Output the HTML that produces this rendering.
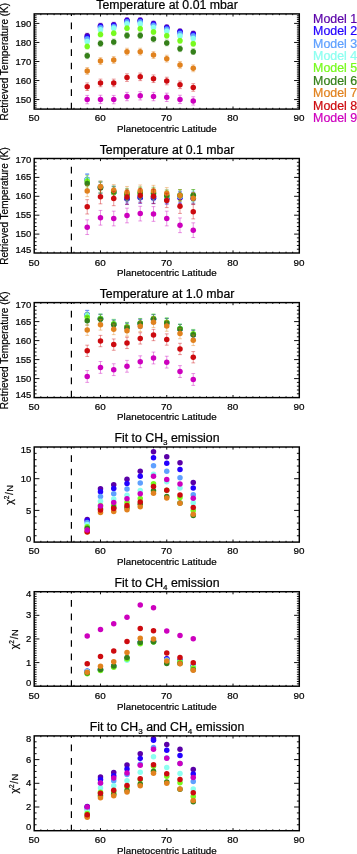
<!DOCTYPE html>
<html><head><meta charset="utf-8"><title>Model retrievals</title>
<style>html,body{margin:0;padding:0;background:#fff}svg{display:block}text{font-family:"Liberation Sans",Arial,Helvetica,sans-serif;fill:#000;stroke:#000;stroke-width:0.22px}</style></head><body>
<svg width="357" height="854" viewBox="0 0 357 854">
<rect width="357" height="854" fill="#fff"/>
<defs><filter id="soft" x="0" y="0" width="100%" height="100%" filterUnits="userSpaceOnUse" color-interpolation-filters="sRGB"><feGaussianBlur stdDeviation="0.35"/></filter></defs>
<g filter="url(#soft)">
<g>
<text x="167" y="9.05" font-size="12.3" text-anchor="middle">Temperature at 0.01 mbar</text>
<path d="M71.4 109.1V102.7M71.4 96.05V89.35M71.4 82.7V76M71.4 69.35V62.65M71.4 56V49.3M71.4 42.65V35.95M71.4 29.3V22.6M71.4 15.95V13.9" stroke="#000" stroke-width="1.2" fill="none"/>
<path d="M40.83 109.1v-1.3M40.83 13.9v1.3M47.46 109.1v-1.3M47.46 13.9v1.3M54.08 109.1v-1.3M54.08 13.9v1.3M60.71 109.1v-1.3M60.71 13.9v1.3M67.34 109.1v-1.3M67.34 13.9v1.3M73.97 109.1v-1.3M73.97 13.9v1.3M80.59 109.1v-1.3M80.59 13.9v1.3M87.22 109.1v-1.3M87.22 13.9v1.3M93.85 109.1v-1.3M93.85 13.9v1.3M100.48 109.1v-2.6M100.48 13.9v2.6M107.1 109.1v-1.3M107.1 13.9v1.3M113.73 109.1v-1.3M113.73 13.9v1.3M120.36 109.1v-1.3M120.36 13.9v1.3M126.99 109.1v-1.3M126.99 13.9v1.3M133.61 109.1v-1.3M133.61 13.9v1.3M140.24 109.1v-1.3M140.24 13.9v1.3M146.87 109.1v-1.3M146.87 13.9v1.3M153.5 109.1v-1.3M153.5 13.9v1.3M160.12 109.1v-1.3M160.12 13.9v1.3M166.75 109.1v-2.6M166.75 13.9v2.6M173.38 109.1v-1.3M173.38 13.9v1.3M180 109.1v-1.3M180 13.9v1.3M186.63 109.1v-1.3M186.63 13.9v1.3M193.26 109.1v-1.3M193.26 13.9v1.3M199.89 109.1v-1.3M199.89 13.9v1.3M206.51 109.1v-1.3M206.51 13.9v1.3M213.14 109.1v-1.3M213.14 13.9v1.3M219.77 109.1v-1.3M219.77 13.9v1.3M226.4 109.1v-1.3M226.4 13.9v1.3M233.03 109.1v-2.6M233.03 13.9v2.6M239.65 109.1v-1.3M239.65 13.9v1.3M246.28 109.1v-1.3M246.28 13.9v1.3M252.91 109.1v-1.3M252.91 13.9v1.3M259.54 109.1v-1.3M259.54 13.9v1.3M266.16 109.1v-1.3M266.16 13.9v1.3M272.79 109.1v-1.3M272.79 13.9v1.3M279.42 109.1v-1.3M279.42 13.9v1.3M286.05 109.1v-1.3M286.05 13.9v1.3M292.67 109.1v-1.3M292.67 13.9v1.3M34.2 107.2h2.4M299.3 107.2h-2.4M34.2 105.29h2.4M299.3 105.29h-2.4M34.2 103.39h2.4M299.3 103.39h-2.4M34.2 101.48h2.4M299.3 101.48h-2.4M34.2 99.58h5.2M299.3 99.58h-5.2M34.2 97.68h2.4M299.3 97.68h-2.4M34.2 95.77h2.4M299.3 95.77h-2.4M34.2 93.87h2.4M299.3 93.87h-2.4M34.2 91.96h2.4M299.3 91.96h-2.4M34.2 90.06h2.4M299.3 90.06h-2.4M34.2 88.16h2.4M299.3 88.16h-2.4M34.2 86.25h2.4M299.3 86.25h-2.4M34.2 84.35h2.4M299.3 84.35h-2.4M34.2 82.44h2.4M299.3 82.44h-2.4M34.2 80.54h5.2M299.3 80.54h-5.2M34.2 78.64h2.4M299.3 78.64h-2.4M34.2 76.73h2.4M299.3 76.73h-2.4M34.2 74.83h2.4M299.3 74.83h-2.4M34.2 72.92h2.4M299.3 72.92h-2.4M34.2 71.02h2.4M299.3 71.02h-2.4M34.2 69.12h2.4M299.3 69.12h-2.4M34.2 67.21h2.4M299.3 67.21h-2.4M34.2 65.31h2.4M299.3 65.31h-2.4M34.2 63.4h2.4M299.3 63.4h-2.4M34.2 61.5h5.2M299.3 61.5h-5.2M34.2 59.6h2.4M299.3 59.6h-2.4M34.2 57.69h2.4M299.3 57.69h-2.4M34.2 55.79h2.4M299.3 55.79h-2.4M34.2 53.88h2.4M299.3 53.88h-2.4M34.2 51.98h2.4M299.3 51.98h-2.4M34.2 50.08h2.4M299.3 50.08h-2.4M34.2 48.17h2.4M299.3 48.17h-2.4M34.2 46.27h2.4M299.3 46.27h-2.4M34.2 44.36h2.4M299.3 44.36h-2.4M34.2 42.46h5.2M299.3 42.46h-5.2M34.2 40.56h2.4M299.3 40.56h-2.4M34.2 38.65h2.4M299.3 38.65h-2.4M34.2 36.75h2.4M299.3 36.75h-2.4M34.2 34.84h2.4M299.3 34.84h-2.4M34.2 32.94h2.4M299.3 32.94h-2.4M34.2 31.04h2.4M299.3 31.04h-2.4M34.2 29.13h2.4M299.3 29.13h-2.4M34.2 27.23h2.4M299.3 27.23h-2.4M34.2 25.32h2.4M299.3 25.32h-2.4M34.2 23.42h5.2M299.3 23.42h-5.2M34.2 21.52h2.4M299.3 21.52h-2.4M34.2 19.61h2.4M299.3 19.61h-2.4M34.2 17.71h2.4M299.3 17.71h-2.4M34.2 15.8h2.4M299.3 15.8h-2.4" stroke="#000" stroke-width="0.95" fill="none"/>
<path d="M87.22 33.24V38.17M85.32 33.24h3.8M85.32 38.17h3.8M100.48 23.19V28.12M98.58 23.19h3.8M98.58 28.12h3.8M113.73 22.24V27.17M111.83 22.24h3.8M111.83 27.17h3.8M126.99 17.69V22.62M125.09 17.69h3.8M125.09 22.62h3.8M140.24 17.69V22.62M138.34 17.69h3.8M138.34 22.62h3.8M153.5 21.1V26.03M151.59 21.1h3.8M151.59 26.03h3.8M166.75 24.71V29.64M164.85 24.71h3.8M164.85 29.64h3.8M180 28.88V33.81M178.1 28.88h3.8M178.1 33.81h3.8M193.26 31.15V36.08M191.36 31.15h3.8M191.36 36.08h3.8" stroke="#5a00a8" stroke-width="0.6" fill="none" opacity="0.7"/>
<g fill="#5a00a8"><circle cx="87.22" cy="35.7" r="2.75"/><circle cx="100.48" cy="25.66" r="2.75"/><circle cx="113.73" cy="24.71" r="2.75"/><circle cx="126.99" cy="20.16" r="2.75"/><circle cx="140.24" cy="20.16" r="2.75"/><circle cx="153.5" cy="23.57" r="2.75"/><circle cx="166.75" cy="27.17" r="2.75"/><circle cx="180" cy="31.34" r="2.75"/><circle cx="193.26" cy="33.62" r="2.75"/></g>
<path d="M87.22 34.76V39.69M85.32 34.76h3.8M85.32 39.69h3.8M100.48 23.95V28.88M98.58 23.95h3.8M98.58 28.88h3.8M113.73 23V27.93M111.83 23h3.8M111.83 27.93h3.8M126.99 18.45V23.38M125.09 18.45h3.8M125.09 23.38h3.8M140.24 18.45V23.38M138.34 18.45h3.8M138.34 23.38h3.8M153.5 21.86V26.79M151.59 21.86h3.8M151.59 26.79h3.8M166.75 25.47V30.4M164.85 25.47h3.8M164.85 30.4h3.8M180 29.64V34.57M178.1 29.64h3.8M178.1 34.57h3.8M193.26 31.91V36.84M191.36 31.91h3.8M191.36 36.84h3.8" stroke="#2300ff" stroke-width="0.6" fill="none" opacity="0.7"/>
<g fill="#2300ff"><circle cx="87.22" cy="37.22" r="2.75"/><circle cx="100.48" cy="26.41" r="2.75"/><circle cx="113.73" cy="25.47" r="2.75"/><circle cx="126.99" cy="20.92" r="2.75"/><circle cx="140.24" cy="20.92" r="2.75"/><circle cx="153.5" cy="24.33" r="2.75"/><circle cx="166.75" cy="27.93" r="2.75"/><circle cx="180" cy="32.1" r="2.75"/><circle cx="193.26" cy="34.38" r="2.75"/></g>
<path d="M87.22 36.65V41.58M85.32 36.65h3.8M85.32 41.58h3.8M100.48 25.28V30.21M98.58 25.28h3.8M98.58 30.21h3.8M113.73 24.33V29.26M111.83 24.33h3.8M111.83 29.26h3.8M126.99 19.59V24.52M125.09 19.59h3.8M125.09 24.52h3.8M140.24 19.59V24.52M138.34 19.59h3.8M138.34 24.52h3.8M153.5 23V27.93M151.59 23h3.8M151.59 27.93h3.8M166.75 26.79V31.72M164.85 26.79h3.8M164.85 31.72h3.8M180 31.15V36.08M178.1 31.15h3.8M178.1 36.08h3.8M193.26 33.43V38.36M191.36 33.43h3.8M191.36 38.36h3.8" stroke="#5fa0ff" stroke-width="0.6" fill="none" opacity="0.7"/>
<g fill="#5fa0ff"><circle cx="87.22" cy="39.12" r="2.75"/><circle cx="100.48" cy="27.74" r="2.75"/><circle cx="113.73" cy="26.79" r="2.75"/><circle cx="126.99" cy="22.05" r="2.75"/><circle cx="140.24" cy="22.05" r="2.75"/><circle cx="153.5" cy="25.47" r="2.75"/><circle cx="166.75" cy="29.26" r="2.75"/><circle cx="180" cy="33.62" r="2.75"/><circle cx="193.26" cy="35.89" r="2.75"/></g>
<path d="M87.22 39.12V44.05M85.32 39.12h3.8M85.32 44.05h3.8M100.48 27.17V32.1M98.58 27.17h3.8M98.58 32.1h3.8M113.73 25.84V30.77M111.83 25.84h3.8M111.83 30.77h3.8M126.99 21.48V26.41M125.09 21.48h3.8M125.09 26.41h3.8M140.24 21.48V26.41M138.34 21.48h3.8M138.34 26.41h3.8M153.5 25.09V30.02M151.59 25.09h3.8M151.59 30.02h3.8M166.75 28.88V33.81M164.85 28.88h3.8M164.85 33.81h3.8M180 33.43V38.36M178.1 33.43h3.8M178.1 38.36h3.8M193.26 36.08V41.01M191.36 36.08h3.8M191.36 41.01h3.8" stroke="#8cfff0" stroke-width="0.6" fill="none" opacity="0.7"/>
<g fill="#8cfff0"><circle cx="87.22" cy="41.58" r="2.75"/><circle cx="100.48" cy="29.64" r="2.75"/><circle cx="113.73" cy="28.31" r="2.75"/><circle cx="126.99" cy="23.95" r="2.75"/><circle cx="140.24" cy="23.95" r="2.75"/><circle cx="153.5" cy="27.55" r="2.75"/><circle cx="166.75" cy="31.34" r="2.75"/><circle cx="180" cy="35.89" r="2.75"/><circle cx="193.26" cy="38.55" r="2.75"/></g>
<path d="M87.22 44.05V48.98M85.32 44.05h3.8M85.32 48.98h3.8M100.48 31.91V36.84M98.58 31.91h3.8M98.58 36.84h3.8M113.73 30.77V35.7M111.83 30.77h3.8M111.83 35.7h3.8M126.99 25.84V30.77M125.09 25.84h3.8M125.09 30.77h3.8M140.24 26.22V31.15M138.34 26.22h3.8M138.34 31.15h3.8M153.5 29.45V34.38M151.59 29.45h3.8M151.59 34.38h3.8M166.75 33.24V38.17M164.85 33.24h3.8M164.85 38.17h3.8M180 38.36V43.29M178.1 38.36h3.8M178.1 43.29h3.8M193.26 41.39V46.32M191.36 41.39h3.8M191.36 46.32h3.8" stroke="#78fa1e" stroke-width="0.6" fill="none" opacity="0.7"/>
<g fill="#78fa1e"><circle cx="87.22" cy="46.51" r="2.75"/><circle cx="100.48" cy="34.38" r="2.75"/><circle cx="113.73" cy="33.24" r="2.75"/><circle cx="126.99" cy="28.31" r="2.75"/><circle cx="140.24" cy="28.69" r="2.75"/><circle cx="153.5" cy="31.91" r="2.75"/><circle cx="166.75" cy="35.7" r="2.75"/><circle cx="180" cy="40.82" r="2.75"/><circle cx="193.26" cy="43.86" r="2.75"/></g>
<path d="M87.22 52.96V58.65M85.32 52.96h3.8M85.32 58.65h3.8M100.48 40.63V46.32M98.58 40.63h3.8M98.58 46.32h3.8M113.73 39.12V44.8M111.83 39.12h3.8M111.83 44.8h3.8M126.99 32.67V38.36M125.09 32.67h3.8M125.09 38.36h3.8M140.24 32.67V38.36M138.34 32.67h3.8M138.34 38.36h3.8M153.5 36.27V41.96M151.59 36.27h3.8M151.59 41.96h3.8M166.75 40.06V45.75M164.85 40.06h3.8M164.85 45.75h3.8M180 45.94V51.63M178.1 45.94h3.8M178.1 51.63h3.8M193.26 48.79V54.47M191.36 48.79h3.8M191.36 54.47h3.8" stroke="#35801a" stroke-width="0.6" fill="none" opacity="0.7"/>
<g fill="#35801a"><circle cx="87.22" cy="55.8" r="2.75"/><circle cx="100.48" cy="43.48" r="2.75"/><circle cx="113.73" cy="41.96" r="2.75"/><circle cx="126.99" cy="35.51" r="2.75"/><circle cx="140.24" cy="35.51" r="2.75"/><circle cx="153.5" cy="39.12" r="2.75"/><circle cx="166.75" cy="42.91" r="2.75"/><circle cx="180" cy="48.79" r="2.75"/><circle cx="193.26" cy="51.63" r="2.75"/></g>
<path d="M87.22 67.56V74.38M85.32 67.56h3.8M85.32 74.38h3.8M100.48 57.7V64.52M98.58 57.7h3.8M98.58 64.52h3.8M113.73 56.56V63.39M111.83 56.56h3.8M111.83 63.39h3.8M126.99 48.22V55.04M125.09 48.22h3.8M125.09 55.04h3.8M140.24 48.22V55.04M138.34 48.22h3.8M138.34 55.04h3.8M153.5 51.63V58.46M151.59 51.63h3.8M151.59 58.46h3.8M166.75 55.23V62.06M164.85 55.23h3.8M164.85 62.06h3.8M180 61.49V68.32M178.1 61.49h3.8M178.1 68.32h3.8M193.26 64.9V71.73M191.36 64.9h3.8M191.36 71.73h3.8" stroke="#e1821e" stroke-width="0.6" fill="none" opacity="0.7"/>
<g fill="#e1821e"><circle cx="87.22" cy="70.97" r="2.75"/><circle cx="100.48" cy="61.11" r="2.75"/><circle cx="113.73" cy="59.97" r="2.75"/><circle cx="126.99" cy="51.63" r="2.75"/><circle cx="140.24" cy="51.63" r="2.75"/><circle cx="153.5" cy="55.04" r="2.75"/><circle cx="166.75" cy="58.65" r="2.75"/><circle cx="180" cy="64.9" r="2.75"/><circle cx="193.26" cy="68.32" r="2.75"/></g>
<path d="M87.22 82.91V90.5M85.32 82.91h3.8M85.32 90.5h3.8M100.48 79.12V86.71M98.58 79.12h3.8M98.58 86.71h3.8M113.73 79.12V86.71M111.83 79.12h3.8M111.83 86.71h3.8M126.99 73.81V81.4M125.09 73.81h3.8M125.09 81.4h3.8M140.24 73.06V80.64M138.34 73.06h3.8M138.34 80.64h3.8M153.5 74.95V82.54M151.59 74.95h3.8M151.59 82.54h3.8M166.75 77.23V84.81M164.85 77.23h3.8M164.85 84.81h3.8M180 81.02V88.6M178.1 81.02h3.8M178.1 88.6h3.8M193.26 83.67V91.26M191.36 83.67h3.8M191.36 91.26h3.8" stroke="#cd0a0f" stroke-width="0.6" fill="none" opacity="0.7"/>
<g fill="#cd0a0f"><circle cx="87.22" cy="86.71" r="2.75"/><circle cx="100.48" cy="82.91" r="2.75"/><circle cx="113.73" cy="82.91" r="2.75"/><circle cx="126.99" cy="77.61" r="2.75"/><circle cx="140.24" cy="76.85" r="2.75"/><circle cx="153.5" cy="78.74" r="2.75"/><circle cx="166.75" cy="81.02" r="2.75"/><circle cx="180" cy="84.81" r="2.75"/><circle cx="193.26" cy="87.46" r="2.75"/></g>
<path d="M87.22 95.43V103.77M85.32 95.43h3.8M85.32 103.77h3.8M100.48 95.24V103.58M98.58 95.24h3.8M98.58 103.58h3.8M113.73 95.43V103.77M111.83 95.43h3.8M111.83 103.77h3.8M126.99 92.39V100.74M125.09 92.39h3.8M125.09 100.74h3.8M140.24 91.64V99.98M138.34 91.64h3.8M138.34 99.98h3.8M153.5 92.39V100.74M151.59 92.39h3.8M151.59 100.74h3.8M166.75 93.15V101.5M164.85 93.15h3.8M164.85 101.5h3.8M180 95.24V103.58M178.1 95.24h3.8M178.1 103.58h3.8M193.26 96.76V105.1M191.36 96.76h3.8M191.36 105.1h3.8" stroke="#cd00be" stroke-width="0.6" fill="none" opacity="0.7"/>
<g fill="#cd00be"><circle cx="87.22" cy="99.6" r="2.75"/><circle cx="100.48" cy="99.41" r="2.75"/><circle cx="113.73" cy="99.6" r="2.75"/><circle cx="126.99" cy="96.57" r="2.75"/><circle cx="140.24" cy="95.81" r="2.75"/><circle cx="153.5" cy="96.57" r="2.75"/><circle cx="166.75" cy="97.32" r="2.75"/><circle cx="180" cy="99.41" r="2.75"/><circle cx="193.26" cy="100.93" r="2.75"/></g>
<rect x="34.2" y="13.9" width="265.1" height="95.2" fill="none" stroke="#000" stroke-width="1.45"/>
<text x="34" y="121.45" font-size="9.9" text-anchor="middle">50</text>
<text x="100.28" y="121.45" font-size="9.9" text-anchor="middle">60</text>
<text x="166.55" y="121.45" font-size="9.9" text-anchor="middle">70</text>
<text x="232.83" y="121.45" font-size="9.9" text-anchor="middle">80</text>
<text x="299.1" y="121.45" font-size="9.9" text-anchor="middle">90</text>
<text x="166.9" y="132.15" font-size="9.8" text-anchor="middle">Planetocentric Latitude</text>
<text x="31.3" y="102.88" font-size="9.5" text-anchor="end">150</text>
<text x="31.3" y="83.84" font-size="9.5" text-anchor="end">160</text>
<text x="31.3" y="64.8" font-size="9.5" text-anchor="end">170</text>
<text x="31.3" y="45.76" font-size="9.5" text-anchor="end">180</text>
<text x="31.3" y="26.72" font-size="9.5" text-anchor="end">190</text>
<text transform="translate(7.8 61.7) rotate(-90)" font-size="10" text-anchor="middle">Retrieved Temperature (K)</text>
</g>
<g>
<text x="167" y="153.65" font-size="12.3" text-anchor="middle">Temperature at 0.1 mbar</text>
<path d="M71.4 253V246.8M71.4 240.15V233.45M71.4 226.8V220.1M71.4 213.45V206.75M71.4 200.1V193.4M71.4 186.75V180.05M71.4 173.4V166.7M71.4 160.05V158.5" stroke="#000" stroke-width="1.2" fill="none"/>
<path d="M40.83 253v-1.3M40.83 158.5v1.3M47.46 253v-1.3M47.46 158.5v1.3M54.08 253v-1.3M54.08 158.5v1.3M60.71 253v-1.3M60.71 158.5v1.3M67.34 253v-1.3M67.34 158.5v1.3M73.97 253v-1.3M73.97 158.5v1.3M80.59 253v-1.3M80.59 158.5v1.3M87.22 253v-1.3M87.22 158.5v1.3M93.85 253v-1.3M93.85 158.5v1.3M100.48 253v-2.6M100.48 158.5v2.6M107.1 253v-1.3M107.1 158.5v1.3M113.73 253v-1.3M113.73 158.5v1.3M120.36 253v-1.3M120.36 158.5v1.3M126.99 253v-1.3M126.99 158.5v1.3M133.61 253v-1.3M133.61 158.5v1.3M140.24 253v-1.3M140.24 158.5v1.3M146.87 253v-1.3M146.87 158.5v1.3M153.5 253v-1.3M153.5 158.5v1.3M160.12 253v-1.3M160.12 158.5v1.3M166.75 253v-2.6M166.75 158.5v2.6M173.38 253v-1.3M173.38 158.5v1.3M180 253v-1.3M180 158.5v1.3M186.63 253v-1.3M186.63 158.5v1.3M193.26 253v-1.3M193.26 158.5v1.3M199.89 253v-1.3M199.89 158.5v1.3M206.51 253v-1.3M206.51 158.5v1.3M213.14 253v-1.3M213.14 158.5v1.3M219.77 253v-1.3M219.77 158.5v1.3M226.4 253v-1.3M226.4 158.5v1.3M233.03 253v-2.6M233.03 158.5v2.6M239.65 253v-1.3M239.65 158.5v1.3M246.28 253v-1.3M246.28 158.5v1.3M252.91 253v-1.3M252.91 158.5v1.3M259.54 253v-1.3M259.54 158.5v1.3M266.16 253v-1.3M266.16 158.5v1.3M272.79 253v-1.3M272.79 158.5v1.3M279.42 253v-1.3M279.42 158.5v1.3M286.05 253v-1.3M286.05 158.5v1.3M292.67 253v-1.3M292.67 158.5v1.3M34.2 249.22h2.4M299.3 249.22h-2.4M34.2 245.44h2.4M299.3 245.44h-2.4M34.2 241.66h2.4M299.3 241.66h-2.4M34.2 237.88h2.4M299.3 237.88h-2.4M34.2 234.1h5.2M299.3 234.1h-5.2M34.2 230.32h2.4M299.3 230.32h-2.4M34.2 226.54h2.4M299.3 226.54h-2.4M34.2 222.76h2.4M299.3 222.76h-2.4M34.2 218.98h2.4M299.3 218.98h-2.4M34.2 215.2h5.2M299.3 215.2h-5.2M34.2 211.42h2.4M299.3 211.42h-2.4M34.2 207.64h2.4M299.3 207.64h-2.4M34.2 203.86h2.4M299.3 203.86h-2.4M34.2 200.08h2.4M299.3 200.08h-2.4M34.2 196.3h5.2M299.3 196.3h-5.2M34.2 192.52h2.4M299.3 192.52h-2.4M34.2 188.74h2.4M299.3 188.74h-2.4M34.2 184.96h2.4M299.3 184.96h-2.4M34.2 181.18h2.4M299.3 181.18h-2.4M34.2 177.4h5.2M299.3 177.4h-5.2M34.2 173.62h2.4M299.3 173.62h-2.4M34.2 169.84h2.4M299.3 169.84h-2.4M34.2 166.06h2.4M299.3 166.06h-2.4M34.2 162.28h2.4M299.3 162.28h-2.4" stroke="#000" stroke-width="0.95" fill="none"/>
<path d="M87.22 174.43V185.73M85.32 174.43h3.8M85.32 185.73h3.8M100.48 181.96V193.27M98.58 181.96h3.8M98.58 193.27h3.8M113.73 186.86V198.16M111.83 186.86h3.8M111.83 198.16h3.8M126.99 193.27V204.57M125.09 193.27h3.8M125.09 204.57h3.8M140.24 192.14V203.44M138.34 192.14h3.8M138.34 203.44h3.8M153.5 192.51V203.82M151.59 192.51h3.8M151.59 203.82h3.8M166.75 192.89V204.19M164.85 192.89h3.8M164.85 204.19h3.8M180 192.14V203.44M178.1 192.14h3.8M178.1 203.44h3.8M193.26 192.89V204.19M191.36 192.89h3.8M191.36 204.19h3.8" stroke="#5a00a8" stroke-width="0.6" fill="none" opacity="0.7"/>
<g fill="#5a00a8"><circle cx="87.22" cy="180.08" r="2.75"/><circle cx="100.48" cy="187.61" r="2.75"/><circle cx="113.73" cy="192.51" r="2.75"/><circle cx="126.99" cy="198.92" r="2.75"/><circle cx="140.24" cy="197.79" r="2.75"/><circle cx="153.5" cy="198.16" r="2.75"/><circle cx="166.75" cy="198.54" r="2.75"/><circle cx="180" cy="197.79" r="2.75"/><circle cx="193.26" cy="198.54" r="2.75"/></g>
<path d="M87.22 174.05V185.35M85.32 174.05h3.8M85.32 185.35h3.8M100.48 181.58V192.89M98.58 181.58h3.8M98.58 192.89h3.8M113.73 186.48V197.79M111.83 186.48h3.8M111.83 197.79h3.8M126.99 192.89V204.19M125.09 192.89h3.8M125.09 204.19h3.8M140.24 191.76V203.06M138.34 191.76h3.8M138.34 203.06h3.8M153.5 192.14V203.44M151.59 192.14h3.8M151.59 203.44h3.8M166.75 192.51V203.82M164.85 192.51h3.8M164.85 203.82h3.8M180 191.76V203.06M178.1 191.76h3.8M178.1 203.06h3.8M193.26 192.51V203.82M191.36 192.51h3.8M191.36 203.82h3.8" stroke="#2300ff" stroke-width="0.6" fill="none" opacity="0.7"/>
<g fill="#2300ff"><circle cx="87.22" cy="179.7" r="2.75"/><circle cx="100.48" cy="187.24" r="2.75"/><circle cx="113.73" cy="192.14" r="2.75"/><circle cx="126.99" cy="198.54" r="2.75"/><circle cx="140.24" cy="197.41" r="2.75"/><circle cx="153.5" cy="197.79" r="2.75"/><circle cx="166.75" cy="198.16" r="2.75"/><circle cx="180" cy="197.41" r="2.75"/><circle cx="193.26" cy="198.16" r="2.75"/></g>
<path d="M87.22 173.67V184.98M85.32 173.67h3.8M85.32 184.98h3.8M100.48 181.21V192.51M98.58 181.21h3.8M98.58 192.51h3.8M113.73 186.11V197.41M111.83 186.11h3.8M111.83 197.41h3.8M126.99 191.38V202.69M125.09 191.38h3.8M125.09 202.69h3.8M140.24 190.25V201.56M138.34 190.25h3.8M138.34 201.56h3.8M153.5 190.63V201.93M151.59 190.63h3.8M151.59 201.93h3.8M166.75 191.76V203.06M164.85 191.76h3.8M164.85 203.06h3.8M180 191V202.31M178.1 191h3.8M178.1 202.31h3.8M193.26 191.38V202.69M191.36 191.38h3.8M191.36 202.69h3.8" stroke="#5fa0ff" stroke-width="0.6" fill="none" opacity="0.7"/>
<g fill="#5fa0ff"><circle cx="87.22" cy="179.32" r="2.75"/><circle cx="100.48" cy="186.86" r="2.75"/><circle cx="113.73" cy="191.76" r="2.75"/><circle cx="126.99" cy="197.03" r="2.75"/><circle cx="140.24" cy="195.9" r="2.75"/><circle cx="153.5" cy="196.28" r="2.75"/><circle cx="166.75" cy="197.41" r="2.75"/><circle cx="180" cy="196.66" r="2.75"/><circle cx="193.26" cy="197.03" r="2.75"/></g>
<path d="M87.22 174.05V185.35M85.32 174.05h3.8M85.32 185.35h3.8M100.48 181.21V192.51M98.58 181.21h3.8M98.58 192.51h3.8M113.73 186.11V197.41M111.83 186.11h3.8M111.83 197.41h3.8M126.99 189.87V201.18M125.09 189.87h3.8M125.09 201.18h3.8M140.24 188.74V200.05M138.34 188.74h3.8M138.34 200.05h3.8M153.5 189.12V200.42M151.59 189.12h3.8M151.59 200.42h3.8M166.75 191V202.31M164.85 191h3.8M164.85 202.31h3.8M180 190.25V201.56M178.1 190.25h3.8M178.1 201.56h3.8M193.26 190.25V201.56M191.36 190.25h3.8M191.36 201.56h3.8" stroke="#8cfff0" stroke-width="0.6" fill="none" opacity="0.7"/>
<g fill="#8cfff0"><circle cx="87.22" cy="179.7" r="2.75"/><circle cx="100.48" cy="186.86" r="2.75"/><circle cx="113.73" cy="191.76" r="2.75"/><circle cx="126.99" cy="195.53" r="2.75"/><circle cx="140.24" cy="194.4" r="2.75"/><circle cx="153.5" cy="194.77" r="2.75"/><circle cx="166.75" cy="196.66" r="2.75"/><circle cx="180" cy="195.9" r="2.75"/><circle cx="193.26" cy="195.9" r="2.75"/></g>
<path d="M87.22 175.56V186.86M85.32 175.56h3.8M85.32 186.86h3.8M100.48 181.58V192.89M98.58 181.58h3.8M98.58 192.89h3.8M113.73 186.86V198.16M111.83 186.86h3.8M111.83 198.16h3.8M126.99 189.12V200.42M125.09 189.12h3.8M125.09 200.42h3.8M140.24 187.61V198.92M138.34 187.61h3.8M138.34 198.92h3.8M153.5 187.99V199.29M151.59 187.99h3.8M151.59 199.29h3.8M166.75 190.25V201.56M164.85 190.25h3.8M164.85 201.56h3.8M180 189.5V200.8M178.1 189.5h3.8M178.1 200.8h3.8M193.26 189.5V200.8M191.36 189.5h3.8M191.36 200.8h3.8" stroke="#78fa1e" stroke-width="0.6" fill="none" opacity="0.7"/>
<g fill="#78fa1e"><circle cx="87.22" cy="181.21" r="2.75"/><circle cx="100.48" cy="187.24" r="2.75"/><circle cx="113.73" cy="192.51" r="2.75"/><circle cx="126.99" cy="194.77" r="2.75"/><circle cx="140.24" cy="193.27" r="2.75"/><circle cx="153.5" cy="193.64" r="2.75"/><circle cx="166.75" cy="195.9" r="2.75"/><circle cx="180" cy="195.15" r="2.75"/><circle cx="193.26" cy="195.15" r="2.75"/></g>
<path d="M87.22 177.82V189.12M85.32 177.82h3.8M85.32 189.12h3.8M100.48 182.34V193.64M98.58 182.34h3.8M98.58 193.64h3.8M113.73 186.11V197.41M111.83 186.11h3.8M111.83 197.41h3.8M126.99 188.37V199.67M125.09 188.37h3.8M125.09 199.67h3.8M140.24 186.86V198.16M138.34 186.86h3.8M138.34 198.16h3.8M153.5 187.24V198.54M151.59 187.24h3.8M151.59 198.54h3.8M166.75 189.87V201.18M164.85 189.87h3.8M164.85 201.18h3.8M180 189.5V200.8M178.1 189.5h3.8M178.1 200.8h3.8M193.26 189.5V200.8M191.36 189.5h3.8M191.36 200.8h3.8" stroke="#35801a" stroke-width="0.6" fill="none" opacity="0.7"/>
<g fill="#35801a"><circle cx="87.22" cy="183.47" r="2.75"/><circle cx="100.48" cy="187.99" r="2.75"/><circle cx="113.73" cy="191.76" r="2.75"/><circle cx="126.99" cy="194.02" r="2.75"/><circle cx="140.24" cy="192.51" r="2.75"/><circle cx="153.5" cy="192.89" r="2.75"/><circle cx="166.75" cy="195.53" r="2.75"/><circle cx="180" cy="195.15" r="2.75"/><circle cx="193.26" cy="195.15" r="2.75"/></g>
<path d="M87.22 185.35V196.66M85.32 185.35h3.8M85.32 196.66h3.8M100.48 180.83V192.14M98.58 180.83h3.8M98.58 192.14h3.8M113.73 184.6V195.9M111.83 184.6h3.8M111.83 195.9h3.8M126.99 186.48V197.79M125.09 186.48h3.8M125.09 197.79h3.8M140.24 184.98V196.28M138.34 184.98h3.8M138.34 196.28h3.8M153.5 185.35V196.66M151.59 185.35h3.8M151.59 196.66h3.8M166.75 187.61V198.92M164.85 187.61h3.8M164.85 198.92h3.8M180 189.87V201.18M178.1 189.87h3.8M178.1 201.18h3.8M193.26 192.51V203.82M191.36 192.51h3.8M191.36 203.82h3.8" stroke="#e1821e" stroke-width="0.6" fill="none" opacity="0.7"/>
<g fill="#e1821e"><circle cx="87.22" cy="191" r="2.75"/><circle cx="100.48" cy="186.48" r="2.75"/><circle cx="113.73" cy="190.25" r="2.75"/><circle cx="126.99" cy="192.14" r="2.75"/><circle cx="140.24" cy="190.63" r="2.75"/><circle cx="153.5" cy="191" r="2.75"/><circle cx="166.75" cy="193.27" r="2.75"/><circle cx="180" cy="195.53" r="2.75"/><circle cx="193.26" cy="198.16" r="2.75"/></g>
<path d="M87.22 199.67V213.99M85.32 199.67h3.8M85.32 213.99h3.8M100.48 189.5V203.82M98.58 189.5h3.8M98.58 203.82h3.8M113.73 191.38V205.7M111.83 191.38h3.8M111.83 205.7h3.8M126.99 189.87V204.19M125.09 189.87h3.8M125.09 204.19h3.8M140.24 188.37V202.69M138.34 188.37h3.8M138.34 202.69h3.8M153.5 189.12V203.44M151.59 189.12h3.8M151.59 203.44h3.8M166.75 193.27V207.58M164.85 193.27h3.8M164.85 207.58h3.8M180 199.11V213.42M178.1 199.11h3.8M178.1 213.42h3.8M193.26 204.57V218.89M191.36 204.57h3.8M191.36 218.89h3.8" stroke="#cd0a0f" stroke-width="0.6" fill="none" opacity="0.7"/>
<g fill="#cd0a0f"><circle cx="87.22" cy="206.83" r="2.75"/><circle cx="100.48" cy="196.66" r="2.75"/><circle cx="113.73" cy="198.54" r="2.75"/><circle cx="126.99" cy="197.03" r="2.75"/><circle cx="140.24" cy="195.53" r="2.75"/><circle cx="153.5" cy="196.28" r="2.75"/><circle cx="166.75" cy="200.42" r="2.75"/><circle cx="180" cy="206.27" r="2.75"/><circle cx="193.26" cy="211.73" r="2.75"/></g>
<path d="M87.22 219.83V234.53M85.32 219.83h3.8M85.32 234.53h3.8M100.48 210.41V225.11M98.58 210.41h3.8M98.58 225.11h3.8M113.73 211.16V225.86M111.83 211.16h3.8M111.83 225.86h3.8M126.99 208.15V222.84M125.09 208.15h3.8M125.09 222.84h3.8M140.24 206.27V220.96M138.34 206.27h3.8M138.34 220.96h3.8M153.5 206.64V221.34M151.59 206.64h3.8M151.59 221.34h3.8M166.75 211.16V225.86M164.85 211.16h3.8M164.85 225.86h3.8M180 217.95V232.64M178.1 217.95h3.8M178.1 232.64h3.8M193.26 222.84V237.54M191.36 222.84h3.8M191.36 237.54h3.8" stroke="#cd00be" stroke-width="0.6" fill="none" opacity="0.7"/>
<g fill="#cd00be"><circle cx="87.22" cy="227.18" r="2.75"/><circle cx="100.48" cy="217.76" r="2.75"/><circle cx="113.73" cy="218.51" r="2.75"/><circle cx="126.99" cy="215.5" r="2.75"/><circle cx="140.24" cy="213.61" r="2.75"/><circle cx="153.5" cy="213.99" r="2.75"/><circle cx="166.75" cy="218.51" r="2.75"/><circle cx="180" cy="225.29" r="2.75"/><circle cx="193.26" cy="230.19" r="2.75"/></g>
<rect x="34.2" y="158.5" width="265.1" height="94.5" fill="none" stroke="#000" stroke-width="1.45"/>
<text x="34" y="265.55" font-size="9.9" text-anchor="middle">50</text>
<text x="100.28" y="265.55" font-size="9.9" text-anchor="middle">60</text>
<text x="166.55" y="265.55" font-size="9.9" text-anchor="middle">70</text>
<text x="232.83" y="265.55" font-size="9.9" text-anchor="middle">80</text>
<text x="299.1" y="265.55" font-size="9.9" text-anchor="middle">90</text>
<text x="166.9" y="276.25" font-size="9.8" text-anchor="middle">Planetocentric Latitude</text>
<text x="31.3" y="252.85" font-size="9.5" text-anchor="end">145</text>
<text x="31.3" y="236.95" font-size="9.5" text-anchor="end">150</text>
<text x="31.3" y="218.05" font-size="9.5" text-anchor="end">155</text>
<text x="31.3" y="199.15" font-size="9.5" text-anchor="end">160</text>
<text x="31.3" y="180.25" font-size="9.5" text-anchor="end">165</text>
<text x="31.3" y="163.25" font-size="9.5" text-anchor="end">170</text>
<text transform="translate(7.8 205.95) rotate(-90)" font-size="10" text-anchor="middle">Retrieved Temperature (K)</text>
</g>
<g>
<text x="167" y="297.75" font-size="12.3" text-anchor="middle">Temperature at 1.0 mbar</text>
<path d="M71.4 397.5V390.8M71.4 384.15V377.45M71.4 370.8V364.1M71.4 357.45V350.75M71.4 344.1V337.4M71.4 330.75V324.05M71.4 317.4V310.7M71.4 304.05V302.6" stroke="#000" stroke-width="1.2" fill="none"/>
<path d="M40.83 397.6v-1.3M40.83 302.6v1.3M47.46 397.6v-1.3M47.46 302.6v1.3M54.08 397.6v-1.3M54.08 302.6v1.3M60.71 397.6v-1.3M60.71 302.6v1.3M67.34 397.6v-1.3M67.34 302.6v1.3M73.97 397.6v-1.3M73.97 302.6v1.3M80.59 397.6v-1.3M80.59 302.6v1.3M87.22 397.6v-1.3M87.22 302.6v1.3M93.85 397.6v-1.3M93.85 302.6v1.3M100.48 397.6v-2.6M100.48 302.6v2.6M107.1 397.6v-1.3M107.1 302.6v1.3M113.73 397.6v-1.3M113.73 302.6v1.3M120.36 397.6v-1.3M120.36 302.6v1.3M126.99 397.6v-1.3M126.99 302.6v1.3M133.61 397.6v-1.3M133.61 302.6v1.3M140.24 397.6v-1.3M140.24 302.6v1.3M146.87 397.6v-1.3M146.87 302.6v1.3M153.5 397.6v-1.3M153.5 302.6v1.3M160.12 397.6v-1.3M160.12 302.6v1.3M166.75 397.6v-2.6M166.75 302.6v2.6M173.38 397.6v-1.3M173.38 302.6v1.3M180 397.6v-1.3M180 302.6v1.3M186.63 397.6v-1.3M186.63 302.6v1.3M193.26 397.6v-1.3M193.26 302.6v1.3M199.89 397.6v-1.3M199.89 302.6v1.3M206.51 397.6v-1.3M206.51 302.6v1.3M213.14 397.6v-1.3M213.14 302.6v1.3M219.77 397.6v-1.3M219.77 302.6v1.3M226.4 397.6v-1.3M226.4 302.6v1.3M233.03 397.6v-2.6M233.03 302.6v2.6M239.65 397.6v-1.3M239.65 302.6v1.3M246.28 397.6v-1.3M246.28 302.6v1.3M252.91 397.6v-1.3M252.91 302.6v1.3M259.54 397.6v-1.3M259.54 302.6v1.3M266.16 397.6v-1.3M266.16 302.6v1.3M272.79 397.6v-1.3M272.79 302.6v1.3M279.42 397.6v-1.3M279.42 302.6v1.3M286.05 397.6v-1.3M286.05 302.6v1.3M292.67 397.6v-1.3M292.67 302.6v1.3M34.2 393.8h2.4M299.3 393.8h-2.4M34.2 390h2.4M299.3 390h-2.4M34.2 386.2h2.4M299.3 386.2h-2.4M34.2 382.4h2.4M299.3 382.4h-2.4M34.2 378.6h5.2M299.3 378.6h-5.2M34.2 374.8h2.4M299.3 374.8h-2.4M34.2 371h2.4M299.3 371h-2.4M34.2 367.2h2.4M299.3 367.2h-2.4M34.2 363.4h2.4M299.3 363.4h-2.4M34.2 359.6h5.2M299.3 359.6h-5.2M34.2 355.8h2.4M299.3 355.8h-2.4M34.2 352h2.4M299.3 352h-2.4M34.2 348.2h2.4M299.3 348.2h-2.4M34.2 344.4h2.4M299.3 344.4h-2.4M34.2 340.6h5.2M299.3 340.6h-5.2M34.2 336.8h2.4M299.3 336.8h-2.4M34.2 333h2.4M299.3 333h-2.4M34.2 329.2h2.4M299.3 329.2h-2.4M34.2 325.4h2.4M299.3 325.4h-2.4M34.2 321.6h5.2M299.3 321.6h-5.2M34.2 317.8h2.4M299.3 317.8h-2.4M34.2 314h2.4M299.3 314h-2.4M34.2 310.2h2.4M299.3 310.2h-2.4M34.2 306.4h2.4M299.3 306.4h-2.4" stroke="#000" stroke-width="0.95" fill="none"/>
<path d="M87.22 310.51V319.56M85.32 310.51h3.8M85.32 319.56h3.8M100.48 314.28V323.32M98.58 314.28h3.8M98.58 323.32h3.8M113.73 319.74V328.79M111.83 319.74h3.8M111.83 328.79h3.8M126.99 322.95V331.99M125.09 322.95h3.8M125.09 331.99h3.8M140.24 319.18V328.22M138.34 319.18h3.8M138.34 328.22h3.8M153.5 314.66V323.7M151.59 314.66h3.8M151.59 323.7h3.8M166.75 318.43V327.47M164.85 318.43h3.8M164.85 327.47h3.8M180 324.45V333.5M178.1 324.45h3.8M178.1 333.5h3.8M193.26 330.11V339.15M191.36 330.11h3.8M191.36 339.15h3.8" stroke="#5a00a8" stroke-width="0.6" fill="none" opacity="0.7"/>
<g fill="#5a00a8"><circle cx="87.22" cy="315.03" r="2.75"/><circle cx="100.48" cy="318.8" r="2.75"/><circle cx="113.73" cy="324.27" r="2.75"/><circle cx="126.99" cy="327.47" r="2.75"/><circle cx="140.24" cy="323.7" r="2.75"/><circle cx="153.5" cy="319.18" r="2.75"/><circle cx="166.75" cy="322.95" r="2.75"/><circle cx="180" cy="328.98" r="2.75"/><circle cx="193.26" cy="334.63" r="2.75"/></g>
<path d="M87.22 310.51V319.56M85.32 310.51h3.8M85.32 319.56h3.8M100.48 314.28V323.32M98.58 314.28h3.8M98.58 323.32h3.8M113.73 319.74V328.79M111.83 319.74h3.8M111.83 328.79h3.8M126.99 322.95V331.99M125.09 322.95h3.8M125.09 331.99h3.8M140.24 319.18V328.22M138.34 319.18h3.8M138.34 328.22h3.8M153.5 314.66V323.7M151.59 314.66h3.8M151.59 323.7h3.8M166.75 318.43V327.47M164.85 318.43h3.8M164.85 327.47h3.8M180 324.45V333.5M178.1 324.45h3.8M178.1 333.5h3.8M193.26 330.11V339.15M191.36 330.11h3.8M191.36 339.15h3.8" stroke="#2300ff" stroke-width="0.6" fill="none" opacity="0.7"/>
<g fill="#2300ff"><circle cx="87.22" cy="315.03" r="2.75"/><circle cx="100.48" cy="318.8" r="2.75"/><circle cx="113.73" cy="324.27" r="2.75"/><circle cx="126.99" cy="327.47" r="2.75"/><circle cx="140.24" cy="323.7" r="2.75"/><circle cx="153.5" cy="319.18" r="2.75"/><circle cx="166.75" cy="322.95" r="2.75"/><circle cx="180" cy="328.98" r="2.75"/><circle cx="193.26" cy="334.63" r="2.75"/></g>
<path d="M87.22 310.14V319.18M85.32 310.14h3.8M85.32 319.18h3.8M100.48 314.09V323.14M98.58 314.09h3.8M98.58 323.14h3.8M113.73 319.56V328.6M111.83 319.56h3.8M111.83 328.6h3.8M126.99 322.57V331.61M125.09 322.57h3.8M125.09 331.61h3.8M140.24 318.8V327.85M138.34 318.8h3.8M138.34 327.85h3.8M153.5 314.28V323.32M151.59 314.28h3.8M151.59 323.32h3.8M166.75 318.05V327.09M164.85 318.05h3.8M164.85 327.09h3.8M180 324.08V333.12M178.1 324.08h3.8M178.1 333.12h3.8M193.26 329.73V338.77M191.36 329.73h3.8M191.36 338.77h3.8" stroke="#5fa0ff" stroke-width="0.6" fill="none" opacity="0.7"/>
<g fill="#5fa0ff"><circle cx="87.22" cy="314.66" r="2.75"/><circle cx="100.48" cy="318.61" r="2.75"/><circle cx="113.73" cy="324.08" r="2.75"/><circle cx="126.99" cy="327.09" r="2.75"/><circle cx="140.24" cy="323.32" r="2.75"/><circle cx="153.5" cy="318.8" r="2.75"/><circle cx="166.75" cy="322.57" r="2.75"/><circle cx="180" cy="328.6" r="2.75"/><circle cx="193.26" cy="334.25" r="2.75"/></g>
<path d="M87.22 310.89V319.93M85.32 310.89h3.8M85.32 319.93h3.8M100.48 314.09V323.14M98.58 314.09h3.8M98.58 323.14h3.8M113.73 319.56V328.6M111.83 319.56h3.8M111.83 328.6h3.8M126.99 322.57V331.61M125.09 322.57h3.8M125.09 331.61h3.8M140.24 318.8V327.85M138.34 318.8h3.8M138.34 327.85h3.8M153.5 314.28V323.32M151.59 314.28h3.8M151.59 323.32h3.8M166.75 318.05V327.09M164.85 318.05h3.8M164.85 327.09h3.8M180 324.08V333.12M178.1 324.08h3.8M178.1 333.12h3.8M193.26 329.73V338.77M191.36 329.73h3.8M191.36 338.77h3.8" stroke="#8cfff0" stroke-width="0.6" fill="none" opacity="0.7"/>
<g fill="#8cfff0"><circle cx="87.22" cy="315.41" r="2.75"/><circle cx="100.48" cy="318.61" r="2.75"/><circle cx="113.73" cy="324.08" r="2.75"/><circle cx="126.99" cy="327.09" r="2.75"/><circle cx="140.24" cy="323.32" r="2.75"/><circle cx="153.5" cy="318.8" r="2.75"/><circle cx="166.75" cy="322.57" r="2.75"/><circle cx="180" cy="328.6" r="2.75"/><circle cx="193.26" cy="334.25" r="2.75"/></g>
<path d="M87.22 312.77V321.82M85.32 312.77h3.8M85.32 321.82h3.8M100.48 313.9V322.95M98.58 313.9h3.8M98.58 322.95h3.8M113.73 319.18V328.22M111.83 319.18h3.8M111.83 328.22h3.8M126.99 322.19V331.24M125.09 322.19h3.8M125.09 331.24h3.8M140.24 318.43V327.47M138.34 318.43h3.8M138.34 327.47h3.8M153.5 313.9V322.95M151.59 313.9h3.8M151.59 322.95h3.8M166.75 317.67V326.72M164.85 317.67h3.8M164.85 326.72h3.8M180 324.08V333.12M178.1 324.08h3.8M178.1 333.12h3.8M193.26 329.35V338.4M191.36 329.35h3.8M191.36 338.4h3.8" stroke="#78fa1e" stroke-width="0.6" fill="none" opacity="0.7"/>
<g fill="#78fa1e"><circle cx="87.22" cy="317.3" r="2.75"/><circle cx="100.48" cy="318.43" r="2.75"/><circle cx="113.73" cy="323.7" r="2.75"/><circle cx="126.99" cy="326.72" r="2.75"/><circle cx="140.24" cy="322.95" r="2.75"/><circle cx="153.5" cy="318.43" r="2.75"/><circle cx="166.75" cy="322.19" r="2.75"/><circle cx="180" cy="328.6" r="2.75"/><circle cx="193.26" cy="333.87" r="2.75"/></g>
<path d="M87.22 316.16V325.21M85.32 316.16h3.8M85.32 325.21h3.8M100.48 314.66V323.7M98.58 314.66h3.8M98.58 323.7h3.8M113.73 320.31V329.35M111.83 320.31h3.8M111.83 329.35h3.8M126.99 322.95V331.99M125.09 322.95h3.8M125.09 331.99h3.8M140.24 318.8V327.85M138.34 318.8h3.8M138.34 327.85h3.8M153.5 314.47V323.51M151.59 314.47h3.8M151.59 323.51h3.8M166.75 318.43V327.47M164.85 318.43h3.8M164.85 327.47h3.8M180 324.45V333.5M178.1 324.45h3.8M178.1 333.5h3.8M193.26 330.11V339.15M191.36 330.11h3.8M191.36 339.15h3.8" stroke="#35801a" stroke-width="0.6" fill="none" opacity="0.7"/>
<g fill="#35801a"><circle cx="87.22" cy="320.69" r="2.75"/><circle cx="100.48" cy="319.18" r="2.75"/><circle cx="113.73" cy="324.83" r="2.75"/><circle cx="126.99" cy="327.47" r="2.75"/><circle cx="140.24" cy="323.32" r="2.75"/><circle cx="153.5" cy="318.99" r="2.75"/><circle cx="166.75" cy="322.95" r="2.75"/><circle cx="180" cy="328.98" r="2.75"/><circle cx="193.26" cy="334.63" r="2.75"/></g>
<path d="M87.22 324.83V335.38M85.32 324.83h3.8M85.32 335.38h3.8M100.48 319.56V330.11M98.58 319.56h3.8M98.58 330.11h3.8M113.73 324.08V334.63M111.83 324.08h3.8M111.83 334.63h3.8M126.99 325.58V336.14M125.09 325.58h3.8M125.09 336.14h3.8M140.24 321.06V331.61M138.34 321.06h3.8M138.34 331.61h3.8M153.5 316.92V327.47M151.59 316.92h3.8M151.59 327.47h3.8M166.75 320.69V331.24M164.85 320.69h3.8M164.85 331.24h3.8M180 328.22V338.77M178.1 328.22h3.8M178.1 338.77h3.8M193.26 335V345.56M191.36 335h3.8M191.36 345.56h3.8" stroke="#e1821e" stroke-width="0.6" fill="none" opacity="0.7"/>
<g fill="#e1821e"><circle cx="87.22" cy="330.11" r="2.75"/><circle cx="100.48" cy="324.83" r="2.75"/><circle cx="113.73" cy="329.35" r="2.75"/><circle cx="126.99" cy="330.86" r="2.75"/><circle cx="140.24" cy="326.34" r="2.75"/><circle cx="153.5" cy="322.19" r="2.75"/><circle cx="166.75" cy="325.96" r="2.75"/><circle cx="180" cy="333.5" r="2.75"/><circle cx="193.26" cy="340.28" r="2.75"/></g>
<path d="M87.22 345.18V356.48M85.32 345.18h3.8M85.32 356.48h3.8M100.48 335.38V346.69M98.58 335.38h3.8M98.58 346.69h3.8M113.73 338.96V350.27M111.83 338.96h3.8M111.83 350.27h3.8M126.99 337.27V348.57M125.09 337.27h3.8M125.09 348.57h3.8M140.24 332.74V344.05M138.34 332.74h3.8M138.34 344.05h3.8M153.5 329.35V340.66M151.59 329.35h3.8M151.59 340.66h3.8M166.75 333.87V345.18M164.85 333.87h3.8M164.85 345.18h3.8M180 343.29V354.6M178.1 343.29h3.8M178.1 354.6h3.8M193.26 351.58V362.89M191.36 351.58h3.8M191.36 362.89h3.8" stroke="#cd0a0f" stroke-width="0.6" fill="none" opacity="0.7"/>
<g fill="#cd0a0f"><circle cx="87.22" cy="350.83" r="2.75"/><circle cx="100.48" cy="341.03" r="2.75"/><circle cx="113.73" cy="344.61" r="2.75"/><circle cx="126.99" cy="342.92" r="2.75"/><circle cx="140.24" cy="338.4" r="2.75"/><circle cx="153.5" cy="335" r="2.75"/><circle cx="166.75" cy="339.53" r="2.75"/><circle cx="180" cy="348.95" r="2.75"/><circle cx="193.26" cy="357.24" r="2.75"/></g>
<path d="M87.22 370.54V382.37M85.32 370.54h3.8M85.32 382.37h3.8M100.48 361.49V373.33M98.58 361.49h3.8M98.58 373.33h3.8M113.73 363.75V375.59M111.83 363.75h3.8M111.83 375.59h3.8M126.99 360.36V372.19M125.09 360.36h3.8M125.09 372.19h3.8M140.24 355.84V367.67M138.34 355.84h3.8M138.34 367.67h3.8M153.5 352.07V363.91M151.59 352.07h3.8M151.59 363.91h3.8M166.75 356.22V368.05M164.85 356.22h3.8M164.85 368.05h3.8M180 365.64V377.47M178.1 365.64h3.8M178.1 377.47h3.8M193.26 373.55V385.38M191.36 373.55h3.8M191.36 385.38h3.8" stroke="#cd00be" stroke-width="0.6" fill="none" opacity="0.7"/>
<g fill="#cd00be"><circle cx="87.22" cy="376.45" r="2.75"/><circle cx="100.48" cy="367.41" r="2.75"/><circle cx="113.73" cy="369.67" r="2.75"/><circle cx="126.99" cy="366.28" r="2.75"/><circle cx="140.24" cy="361.76" r="2.75"/><circle cx="153.5" cy="357.99" r="2.75"/><circle cx="166.75" cy="362.13" r="2.75"/><circle cx="180" cy="371.55" r="2.75"/><circle cx="193.26" cy="379.47" r="2.75"/></g>
<rect x="34.2" y="302.6" width="265.1" height="95" fill="none" stroke="#000" stroke-width="1.45"/>
<text x="34" y="409.55" font-size="9.9" text-anchor="middle">50</text>
<text x="100.28" y="409.55" font-size="9.9" text-anchor="middle">60</text>
<text x="166.55" y="409.55" font-size="9.9" text-anchor="middle">70</text>
<text x="232.83" y="409.55" font-size="9.9" text-anchor="middle">80</text>
<text x="299.1" y="409.55" font-size="9.9" text-anchor="middle">90</text>
<text x="166.9" y="420.25" font-size="9.8" text-anchor="middle">Planetocentric Latitude</text>
<text x="31.3" y="397.9" font-size="9.5" text-anchor="end">145</text>
<text x="31.3" y="381.6" font-size="9.5" text-anchor="end">150</text>
<text x="31.3" y="362.6" font-size="9.5" text-anchor="end">155</text>
<text x="31.3" y="343.6" font-size="9.5" text-anchor="end">160</text>
<text x="31.3" y="324.6" font-size="9.5" text-anchor="end">165</text>
<text x="31.3" y="308.4" font-size="9.5" text-anchor="end">170</text>
<text transform="translate(7.8 350.3) rotate(-90)" font-size="10" text-anchor="middle">Retrieved Temperature (K)</text>
</g>
<g>
<text x="167" y="442.15" font-size="12.3" text-anchor="middle">Fit to CH<tspan font-size="8.1" dy="2.7">3</tspan><tspan dy="-2.7"> emission</tspan></text>
<path d="M71.4 542.1V535.4M71.4 528.75V522.05M71.4 515.4V508.7M71.4 502.05V495.35M71.4 488.7V482M71.4 475.35V468.65M71.4 462V455.3M71.4 448.65V447" stroke="#000" stroke-width="1.2" fill="none"/>
<path d="M40.83 542.1v-1.3M40.83 447v1.3M47.46 542.1v-1.3M47.46 447v1.3M54.08 542.1v-1.3M54.08 447v1.3M60.71 542.1v-1.3M60.71 447v1.3M67.34 542.1v-1.3M67.34 447v1.3M73.97 542.1v-1.3M73.97 447v1.3M80.59 542.1v-1.3M80.59 447v1.3M87.22 542.1v-1.3M87.22 447v1.3M93.85 542.1v-1.3M93.85 447v1.3M100.48 542.1v-2.6M100.48 447v2.6M107.1 542.1v-1.3M107.1 447v1.3M113.73 542.1v-1.3M113.73 447v1.3M120.36 542.1v-1.3M120.36 447v1.3M126.99 542.1v-1.3M126.99 447v1.3M133.61 542.1v-1.3M133.61 447v1.3M140.24 542.1v-1.3M140.24 447v1.3M146.87 542.1v-1.3M146.87 447v1.3M153.5 542.1v-1.3M153.5 447v1.3M160.12 542.1v-1.3M160.12 447v1.3M166.75 542.1v-2.6M166.75 447v2.6M173.38 542.1v-1.3M173.38 447v1.3M180 542.1v-1.3M180 447v1.3M186.63 542.1v-1.3M186.63 447v1.3M193.26 542.1v-1.3M193.26 447v1.3M199.89 542.1v-1.3M199.89 447v1.3M206.51 542.1v-1.3M206.51 447v1.3M213.14 542.1v-1.3M213.14 447v1.3M219.77 542.1v-1.3M219.77 447v1.3M226.4 542.1v-1.3M226.4 447v1.3M233.03 542.1v-2.6M233.03 447v2.6M239.65 542.1v-1.3M239.65 447v1.3M246.28 542.1v-1.3M246.28 447v1.3M252.91 542.1v-1.3M252.91 447v1.3M259.54 542.1v-1.3M259.54 447v1.3M266.16 542.1v-1.3M266.16 447v1.3M272.79 542.1v-1.3M272.79 447v1.3M279.42 542.1v-1.3M279.42 447v1.3M286.05 542.1v-1.3M286.05 447v1.3M292.67 542.1v-1.3M292.67 447v1.3M34.2 535.76h2.4M299.3 535.76h-2.4M34.2 529.42h2.4M299.3 529.42h-2.4M34.2 523.08h2.4M299.3 523.08h-2.4M34.2 516.74h2.4M299.3 516.74h-2.4M34.2 510.4h5.2M299.3 510.4h-5.2M34.2 504.06h2.4M299.3 504.06h-2.4M34.2 497.72h2.4M299.3 497.72h-2.4M34.2 491.38h2.4M299.3 491.38h-2.4M34.2 485.04h2.4M299.3 485.04h-2.4M34.2 478.7h5.2M299.3 478.7h-5.2M34.2 472.36h2.4M299.3 472.36h-2.4M34.2 466.02h2.4M299.3 466.02h-2.4M34.2 459.68h2.4M299.3 459.68h-2.4M34.2 453.34h2.4M299.3 453.34h-2.4" stroke="#000" stroke-width="0.95" fill="none"/>
<g fill="#5a00a8"><circle cx="87.22" cy="519.4" r="2.75"/><circle cx="100.48" cy="488.84" r="2.75"/><circle cx="113.73" cy="484.82" r="2.75"/><circle cx="126.99" cy="479.16" r="2.75"/><circle cx="140.24" cy="471.18" r="2.75"/><circle cx="153.5" cy="451.81" r="2.75"/><circle cx="166.75" cy="456.84" r="2.75"/><circle cx="180" cy="462.82" r="2.75"/><circle cx="193.26" cy="482.56" r="2.75"/></g>
<g fill="#2300ff"><circle cx="87.22" cy="520.65" r="2.75"/><circle cx="100.48" cy="491.74" r="2.75"/><circle cx="113.73" cy="488.59" r="2.75"/><circle cx="126.99" cy="483.56" r="2.75"/><circle cx="140.24" cy="476.27" r="2.75"/><circle cx="153.5" cy="457.79" r="2.75"/><circle cx="166.75" cy="463.13" r="2.75"/><circle cx="180" cy="469.42" r="2.75"/><circle cx="193.26" cy="487.96" r="2.75"/></g>
<g fill="#5fa0ff"><circle cx="87.22" cy="522.54" r="2.75"/><circle cx="100.48" cy="496.39" r="2.75"/><circle cx="113.73" cy="493.87" r="2.75"/><circle cx="126.99" cy="488.97" r="2.75"/><circle cx="140.24" cy="482.93" r="2.75"/><circle cx="153.5" cy="465.65" r="2.75"/><circle cx="166.75" cy="471.18" r="2.75"/><circle cx="180" cy="477.65" r="2.75"/><circle cx="193.26" cy="494.63" r="2.75"/></g>
<g fill="#8cfff0"><circle cx="87.22" cy="524.43" r="2.75"/><circle cx="100.48" cy="501.17" r="2.75"/><circle cx="113.73" cy="498.9" r="2.75"/><circle cx="126.99" cy="495.26" r="2.75"/><circle cx="140.24" cy="490.48" r="2.75"/><circle cx="153.5" cy="474.13" r="2.75"/><circle cx="166.75" cy="481.68" r="2.75"/><circle cx="180" cy="487.96" r="2.75"/><circle cx="193.26" cy="502.8" r="2.75"/></g>
<g fill="#78fa1e"><circle cx="87.22" cy="526.63" r="2.75"/><circle cx="100.48" cy="505.57" r="2.75"/><circle cx="113.73" cy="505.19" r="2.75"/><circle cx="126.99" cy="502.42" r="2.75"/><circle cx="140.24" cy="498.4" r="2.75"/><circle cx="153.5" cy="483.81" r="2.75"/><circle cx="166.75" cy="490.23" r="2.75"/><circle cx="180" cy="497.39" r="2.75"/><circle cx="193.26" cy="510.6" r="2.75"/></g>
<g fill="#35801a"><circle cx="87.22" cy="528.2" r="2.75"/><circle cx="100.48" cy="508.71" r="2.75"/><circle cx="113.73" cy="507.45" r="2.75"/><circle cx="126.99" cy="507.45" r="2.75"/><circle cx="140.24" cy="504.31" r="2.75"/><circle cx="153.5" cy="490.86" r="2.75"/><circle cx="166.75" cy="496.45" r="2.75"/><circle cx="180" cy="503.05" r="2.75"/><circle cx="193.26" cy="515.62" r="2.75"/></g>
<g fill="#e1821e"><circle cx="87.22" cy="531.97" r="2.75"/><circle cx="100.48" cy="512.48" r="2.75"/><circle cx="113.73" cy="511.54" r="2.75"/><circle cx="126.99" cy="509.65" r="2.75"/><circle cx="140.24" cy="506.82" r="2.75"/><circle cx="153.5" cy="493.37" r="2.75"/><circle cx="166.75" cy="498.02" r="2.75"/><circle cx="180" cy="503.37" r="2.75"/><circle cx="193.26" cy="514.37" r="2.75"/></g>
<g fill="#cd0a0f"><circle cx="87.22" cy="531.66" r="2.75"/><circle cx="100.48" cy="509.97" r="2.75"/><circle cx="113.73" cy="508.39" r="2.75"/><circle cx="126.99" cy="505.57" r="2.75"/><circle cx="140.24" cy="502.11" r="2.75"/><circle cx="153.5" cy="486.45" r="2.75"/><circle cx="166.75" cy="490.23" r="2.75"/><circle cx="180" cy="494.88" r="2.75"/><circle cx="193.26" cy="507.45" r="2.75"/></g>
<g fill="#cd00be"><circle cx="87.22" cy="530.08" r="2.75"/><circle cx="100.48" cy="505.88" r="2.75"/><circle cx="113.73" cy="502.42" r="2.75"/><circle cx="126.99" cy="498.65" r="2.75"/><circle cx="140.24" cy="493.87" r="2.75"/><circle cx="153.5" cy="476.27" r="2.75"/><circle cx="166.75" cy="479.41" r="2.75"/><circle cx="180" cy="483.94" r="2.75"/><circle cx="193.26" cy="498.27" r="2.75"/></g>
<rect x="34.2" y="447" width="265.1" height="95.1" fill="none" stroke="#000" stroke-width="1.45"/>
<text x="34" y="554.15" font-size="9.9" text-anchor="middle">50</text>
<text x="100.28" y="554.15" font-size="9.9" text-anchor="middle">60</text>
<text x="166.55" y="554.15" font-size="9.9" text-anchor="middle">70</text>
<text x="232.83" y="554.15" font-size="9.9" text-anchor="middle">80</text>
<text x="299.1" y="554.15" font-size="9.9" text-anchor="middle">90</text>
<text x="166.9" y="564.85" font-size="9.8" text-anchor="middle">Planetocentric Latitude</text>
<text x="31.3" y="542.1" font-size="9.5" text-anchor="end">0</text>
<text x="31.3" y="513.6" font-size="9.5" text-anchor="end">5</text>
<text x="31.3" y="481.9" font-size="9.5" text-anchor="end">10</text>
<text x="31.3" y="453" font-size="9.5" text-anchor="end">15</text>
<text transform="translate(12.8 494.85) rotate(-90)" font-size="9.3" text-anchor="middle"><tspan font-size="10.5">χ</tspan><tspan font-size="6.5" dy="-4.1">2</tspan><tspan dy="4.1" dx="0.7" font-size="10">/</tspan><tspan dx="0.5">N</tspan></text>
</g>
<g>
<text x="167" y="586.85" font-size="12.3" text-anchor="middle">Fit to CH<tspan font-size="8.1" dy="2.7">4</tspan><tspan dy="-2.7"> emission</tspan></text>
<path d="M71.4 686.2V680.2M71.4 673.55V666.85M71.4 660.2V653.5M71.4 646.85V640.15M71.4 633.5V626.8M71.4 620.15V613.45M71.4 606.8V600.1M71.4 593.45V591.7" stroke="#000" stroke-width="1.2" fill="none"/>
<path d="M40.83 686.2v-1.3M40.83 591.7v1.3M47.46 686.2v-1.3M47.46 591.7v1.3M54.08 686.2v-1.3M54.08 591.7v1.3M60.71 686.2v-1.3M60.71 591.7v1.3M67.34 686.2v-1.3M67.34 591.7v1.3M73.97 686.2v-1.3M73.97 591.7v1.3M80.59 686.2v-1.3M80.59 591.7v1.3M87.22 686.2v-1.3M87.22 591.7v1.3M93.85 686.2v-1.3M93.85 591.7v1.3M100.48 686.2v-2.6M100.48 591.7v2.6M107.1 686.2v-1.3M107.1 591.7v1.3M113.73 686.2v-1.3M113.73 591.7v1.3M120.36 686.2v-1.3M120.36 591.7v1.3M126.99 686.2v-1.3M126.99 591.7v1.3M133.61 686.2v-1.3M133.61 591.7v1.3M140.24 686.2v-1.3M140.24 591.7v1.3M146.87 686.2v-1.3M146.87 591.7v1.3M153.5 686.2v-1.3M153.5 591.7v1.3M160.12 686.2v-1.3M160.12 591.7v1.3M166.75 686.2v-2.6M166.75 591.7v2.6M173.38 686.2v-1.3M173.38 591.7v1.3M180 686.2v-1.3M180 591.7v1.3M186.63 686.2v-1.3M186.63 591.7v1.3M193.26 686.2v-1.3M193.26 591.7v1.3M199.89 686.2v-1.3M199.89 591.7v1.3M206.51 686.2v-1.3M206.51 591.7v1.3M213.14 686.2v-1.3M213.14 591.7v1.3M219.77 686.2v-1.3M219.77 591.7v1.3M226.4 686.2v-1.3M226.4 591.7v1.3M233.03 686.2v-2.6M233.03 591.7v2.6M239.65 686.2v-1.3M239.65 591.7v1.3M246.28 686.2v-1.3M246.28 591.7v1.3M252.91 686.2v-1.3M252.91 591.7v1.3M259.54 686.2v-1.3M259.54 591.7v1.3M266.16 686.2v-1.3M266.16 591.7v1.3M272.79 686.2v-1.3M272.79 591.7v1.3M279.42 686.2v-1.3M279.42 591.7v1.3M286.05 686.2v-1.3M286.05 591.7v1.3M292.67 686.2v-1.3M292.67 591.7v1.3M34.2 683.84h2.4M299.3 683.84h-2.4M34.2 681.48h2.4M299.3 681.48h-2.4M34.2 679.11h2.4M299.3 679.11h-2.4M34.2 676.75h2.4M299.3 676.75h-2.4M34.2 674.39h2.4M299.3 674.39h-2.4M34.2 672.03h2.4M299.3 672.03h-2.4M34.2 669.66h2.4M299.3 669.66h-2.4M34.2 667.3h2.4M299.3 667.3h-2.4M34.2 664.94h2.4M299.3 664.94h-2.4M34.2 662.58h5.2M299.3 662.58h-5.2M34.2 660.21h2.4M299.3 660.21h-2.4M34.2 657.85h2.4M299.3 657.85h-2.4M34.2 655.49h2.4M299.3 655.49h-2.4M34.2 653.12h2.4M299.3 653.12h-2.4M34.2 650.76h2.4M299.3 650.76h-2.4M34.2 648.4h2.4M299.3 648.4h-2.4M34.2 646.04h2.4M299.3 646.04h-2.4M34.2 643.68h2.4M299.3 643.68h-2.4M34.2 641.31h2.4M299.3 641.31h-2.4M34.2 638.95h5.2M299.3 638.95h-5.2M34.2 636.59h2.4M299.3 636.59h-2.4M34.2 634.23h2.4M299.3 634.23h-2.4M34.2 631.86h2.4M299.3 631.86h-2.4M34.2 629.5h2.4M299.3 629.5h-2.4M34.2 627.14h2.4M299.3 627.14h-2.4M34.2 624.78h2.4M299.3 624.78h-2.4M34.2 622.41h2.4M299.3 622.41h-2.4M34.2 620.05h2.4M299.3 620.05h-2.4M34.2 617.69h2.4M299.3 617.69h-2.4M34.2 615.33h5.2M299.3 615.33h-5.2M34.2 612.96h2.4M299.3 612.96h-2.4M34.2 610.6h2.4M299.3 610.6h-2.4M34.2 608.24h2.4M299.3 608.24h-2.4M34.2 605.88h2.4M299.3 605.88h-2.4M34.2 603.51h2.4M299.3 603.51h-2.4M34.2 601.15h2.4M299.3 601.15h-2.4M34.2 598.79h2.4M299.3 598.79h-2.4M34.2 596.43h2.4M299.3 596.43h-2.4M34.2 594.06h2.4M299.3 594.06h-2.4" stroke="#000" stroke-width="0.95" fill="none"/>
<g fill="#5a00a8"><circle cx="87.22" cy="671.55" r="2.75"/><circle cx="100.48" cy="669.66" r="2.75"/><circle cx="113.73" cy="666.36" r="2.75"/><circle cx="126.99" cy="658.8" r="2.75"/><circle cx="140.24" cy="642.49" r="2.75"/><circle cx="153.5" cy="641.31" r="2.75"/><circle cx="166.75" cy="658.8" r="2.75"/><circle cx="180" cy="660.21" r="2.75"/><circle cx="193.26" cy="665.88" r="2.75"/></g>
<g fill="#2300ff"><circle cx="87.22" cy="671.32" r="2.75"/><circle cx="100.48" cy="669.66" r="2.75"/><circle cx="113.73" cy="666.36" r="2.75"/><circle cx="126.99" cy="659.03" r="2.75"/><circle cx="140.24" cy="642.73" r="2.75"/><circle cx="153.5" cy="641.55" r="2.75"/><circle cx="166.75" cy="659.03" r="2.75"/><circle cx="180" cy="660.45" r="2.75"/><circle cx="193.26" cy="666.12" r="2.75"/></g>
<g fill="#5fa0ff"><circle cx="87.22" cy="671.08" r="2.75"/><circle cx="100.48" cy="669.66" r="2.75"/><circle cx="113.73" cy="666.59" r="2.75"/><circle cx="126.99" cy="659.5" r="2.75"/><circle cx="140.24" cy="642.97" r="2.75"/><circle cx="153.5" cy="641.79" r="2.75"/><circle cx="166.75" cy="659.74" r="2.75"/><circle cx="180" cy="660.92" r="2.75"/><circle cx="193.26" cy="666.36" r="2.75"/></g>
<g fill="#8cfff0"><circle cx="87.22" cy="672.03" r="2.75"/><circle cx="100.48" cy="670.13" r="2.75"/><circle cx="113.73" cy="666.83" r="2.75"/><circle cx="126.99" cy="660.21" r="2.75"/><circle cx="140.24" cy="643.2" r="2.75"/><circle cx="153.5" cy="642.02" r="2.75"/><circle cx="166.75" cy="660.69" r="2.75"/><circle cx="180" cy="661.39" r="2.75"/><circle cx="193.26" cy="666.83" r="2.75"/></g>
<g fill="#78fa1e"><circle cx="87.22" cy="673.68" r="2.75"/><circle cx="100.48" cy="670.61" r="2.75"/><circle cx="113.73" cy="667.3" r="2.75"/><circle cx="126.99" cy="659.03" r="2.75"/><circle cx="140.24" cy="643.68" r="2.75"/><circle cx="153.5" cy="642.02" r="2.75"/><circle cx="166.75" cy="662.1" r="2.75"/><circle cx="180" cy="662.1" r="2.75"/><circle cx="193.26" cy="668.01" r="2.75"/></g>
<g fill="#35801a"><circle cx="87.22" cy="672.97" r="2.75"/><circle cx="100.48" cy="669.43" r="2.75"/><circle cx="113.73" cy="666" r="2.75"/><circle cx="126.99" cy="657.61" r="2.75"/><circle cx="140.24" cy="642.49" r="2.75"/><circle cx="153.5" cy="641.67" r="2.75"/><circle cx="166.75" cy="663.52" r="2.75"/><circle cx="180" cy="663.52" r="2.75"/><circle cx="193.26" cy="669.66" r="2.75"/></g>
<g fill="#e1821e"><circle cx="87.22" cy="672.26" r="2.75"/><circle cx="100.48" cy="666.36" r="2.75"/><circle cx="113.73" cy="661.63" r="2.75"/><circle cx="126.99" cy="652.53" r="2.75"/><circle cx="140.24" cy="638.24" r="2.75"/><circle cx="153.5" cy="638.95" r="2.75"/><circle cx="166.75" cy="660.92" r="2.75"/><circle cx="180" cy="663.76" r="2.75"/><circle cx="193.26" cy="670.13" r="2.75"/></g>
<g fill="#cd0a0f"><circle cx="87.22" cy="663.76" r="2.75"/><circle cx="100.48" cy="656.55" r="2.75"/><circle cx="113.73" cy="650.88" r="2.75"/><circle cx="126.99" cy="641.43" r="2.75"/><circle cx="140.24" cy="628.44" r="2.75"/><circle cx="153.5" cy="630.68" r="2.75"/><circle cx="166.75" cy="653.12" r="2.75"/><circle cx="180" cy="657.38" r="2.75"/><circle cx="193.26" cy="662.81" r="2.75"/></g>
<g fill="#cd00be"><circle cx="87.22" cy="636" r="2.75"/><circle cx="100.48" cy="629.5" r="2.75"/><circle cx="113.73" cy="623.83" r="2.75"/><circle cx="126.99" cy="617.22" r="2.75"/><circle cx="140.24" cy="604.93" r="2.75"/><circle cx="153.5" cy="607.77" r="2.75"/><circle cx="166.75" cy="630.92" r="2.75"/><circle cx="180" cy="635.41" r="2.75"/><circle cx="193.26" cy="638.71" r="2.75"/></g>
<rect x="34.2" y="591.7" width="265.1" height="94.5" fill="none" stroke="#000" stroke-width="1.45"/>
<text x="34" y="698.95" font-size="9.9" text-anchor="middle">50</text>
<text x="100.28" y="698.95" font-size="9.9" text-anchor="middle">60</text>
<text x="166.55" y="698.95" font-size="9.9" text-anchor="middle">70</text>
<text x="232.83" y="698.95" font-size="9.9" text-anchor="middle">80</text>
<text x="299.1" y="698.95" font-size="9.9" text-anchor="middle">90</text>
<text x="166.9" y="709.65" font-size="9.8" text-anchor="middle">Planetocentric Latitude</text>
<text x="31.3" y="686.2" font-size="9.5" text-anchor="end">0</text>
<text x="31.3" y="665.68" font-size="9.5" text-anchor="end">1</text>
<text x="31.3" y="642.05" font-size="9.5" text-anchor="end">2</text>
<text x="31.3" y="618.43" font-size="9.5" text-anchor="end">3</text>
<text x="31.3" y="597.3" font-size="9.5" text-anchor="end">4</text>
<text transform="translate(18.3 639.25) rotate(-90)" font-size="9.3" text-anchor="middle"><tspan font-size="10.5">χ</tspan><tspan font-size="6.5" dy="-4.1">2</tspan><tspan dy="4.1" dx="0.7" font-size="10">/</tspan><tspan dx="0.5">N</tspan></text>
</g>
<g>
<text x="167" y="731.05" font-size="12.3" text-anchor="middle">Fit to CH<tspan font-size="8.1" dy="2.7">3</tspan><tspan dy="-2.7"> and CH</tspan><tspan font-size="8.1" dy="2.7">4</tspan><tspan dy="-2.7"> emission</tspan></text>
<path d="M71.4 830.7V824.7M71.4 818.05V811.35M71.4 804.7V798M71.4 791.35V784.65M71.4 778V771.3M71.4 764.65V757.95M71.4 751.3V744.6M71.4 737.95V735.9" stroke="#000" stroke-width="1.2" fill="none"/>
<path d="M40.83 830.7v-1.3M40.83 735.9v1.3M47.46 830.7v-1.3M47.46 735.9v1.3M54.08 830.7v-1.3M54.08 735.9v1.3M60.71 830.7v-1.3M60.71 735.9v1.3M67.34 830.7v-1.3M67.34 735.9v1.3M73.97 830.7v-1.3M73.97 735.9v1.3M80.59 830.7v-1.3M80.59 735.9v1.3M87.22 830.7v-1.3M87.22 735.9v1.3M93.85 830.7v-1.3M93.85 735.9v1.3M100.48 830.7v-2.6M100.48 735.9v2.6M107.1 830.7v-1.3M107.1 735.9v1.3M113.73 830.7v-1.3M113.73 735.9v1.3M120.36 830.7v-1.3M120.36 735.9v1.3M126.99 830.7v-1.3M126.99 735.9v1.3M133.61 830.7v-1.3M133.61 735.9v1.3M140.24 830.7v-1.3M140.24 735.9v1.3M146.87 830.7v-1.3M146.87 735.9v1.3M153.5 830.7v-1.3M153.5 735.9v1.3M160.12 830.7v-1.3M160.12 735.9v1.3M166.75 830.7v-2.6M166.75 735.9v2.6M173.38 830.7v-1.3M173.38 735.9v1.3M180 830.7v-1.3M180 735.9v1.3M186.63 830.7v-1.3M186.63 735.9v1.3M193.26 830.7v-1.3M193.26 735.9v1.3M199.89 830.7v-1.3M199.89 735.9v1.3M206.51 830.7v-1.3M206.51 735.9v1.3M213.14 830.7v-1.3M213.14 735.9v1.3M219.77 830.7v-1.3M219.77 735.9v1.3M226.4 830.7v-1.3M226.4 735.9v1.3M233.03 830.7v-2.6M233.03 735.9v2.6M239.65 830.7v-1.3M239.65 735.9v1.3M246.28 830.7v-1.3M246.28 735.9v1.3M252.91 830.7v-1.3M252.91 735.9v1.3M259.54 830.7v-1.3M259.54 735.9v1.3M266.16 830.7v-1.3M266.16 735.9v1.3M272.79 830.7v-1.3M272.79 735.9v1.3M279.42 830.7v-1.3M279.42 735.9v1.3M286.05 830.7v-1.3M286.05 735.9v1.3M292.67 830.7v-1.3M292.67 735.9v1.3M34.2 824.78h2.4M299.3 824.78h-2.4M34.2 818.85h2.4M299.3 818.85h-2.4M34.2 812.93h2.4M299.3 812.93h-2.4M34.2 807h5.2M299.3 807h-5.2M34.2 801.08h2.4M299.3 801.08h-2.4M34.2 795.15h2.4M299.3 795.15h-2.4M34.2 789.23h2.4M299.3 789.23h-2.4M34.2 783.3h5.2M299.3 783.3h-5.2M34.2 777.38h2.4M299.3 777.38h-2.4M34.2 771.45h2.4M299.3 771.45h-2.4M34.2 765.52h2.4M299.3 765.52h-2.4M34.2 759.6h5.2M299.3 759.6h-5.2M34.2 753.67h2.4M299.3 753.67h-2.4M34.2 747.75h2.4M299.3 747.75h-2.4M34.2 741.82h2.4M299.3 741.82h-2.4" stroke="#000" stroke-width="0.95" fill="none"/>
<g fill="#5a00a8"><circle cx="87.22" cy="806.41" r="2.75"/><circle cx="100.48" cy="777.02" r="2.75"/><circle cx="113.73" cy="772.52" r="2.75"/><circle cx="126.99" cy="764.99" r="2.75"/><circle cx="140.24" cy="753.67" r="2.75"/><circle cx="153.5" cy="738.86" r="2.75"/><circle cx="166.75" cy="744.43" r="2.75"/><circle cx="180" cy="749.23" r="2.75"/><circle cx="193.26" cy="769.44" r="2.75"/></g>
<g fill="#2300ff"><circle cx="87.22" cy="807.24" r="2.75"/><circle cx="100.48" cy="779.51" r="2.75"/><circle cx="113.73" cy="775.72" r="2.75"/><circle cx="126.99" cy="769.08" r="2.75"/><circle cx="140.24" cy="758.41" r="2.75"/><circle cx="153.5" cy="740.17" r="2.75"/><circle cx="166.75" cy="750.24" r="2.75"/><circle cx="180" cy="755.57" r="2.75"/><circle cx="193.26" cy="774.06" r="2.75"/></g>
<g fill="#5fa0ff"><circle cx="87.22" cy="809.13" r="2.75"/><circle cx="100.48" cy="783.3" r="2.75"/><circle cx="113.73" cy="780.75" r="2.75"/><circle cx="126.99" cy="774.41" r="2.75"/><circle cx="140.24" cy="764.34" r="2.75"/><circle cx="153.5" cy="747.39" r="2.75"/><circle cx="166.75" cy="758.06" r="2.75"/><circle cx="180" cy="763.51" r="2.75"/><circle cx="193.26" cy="781.4" r="2.75"/></g>
<g fill="#8cfff0"><circle cx="87.22" cy="811.62" r="2.75"/><circle cx="100.48" cy="787.92" r="2.75"/><circle cx="113.73" cy="785.79" r="2.75"/><circle cx="126.99" cy="780.75" r="2.75"/><circle cx="140.24" cy="772.28" r="2.75"/><circle cx="153.5" cy="756.82" r="2.75"/><circle cx="166.75" cy="767.54" r="2.75"/><circle cx="180" cy="773.46" r="2.75"/><circle cx="193.26" cy="788.99" r="2.75"/></g>
<g fill="#78fa1e"><circle cx="87.22" cy="813.52" r="2.75"/><circle cx="100.48" cy="792.19" r="2.75"/><circle cx="113.73" cy="792.07" r="2.75"/><circle cx="126.99" cy="787.09" r="2.75"/><circle cx="140.24" cy="779.39" r="2.75"/><circle cx="153.5" cy="766.24" r="2.75"/><circle cx="166.75" cy="776.31" r="2.75"/><circle cx="180" cy="782.65" r="2.75"/><circle cx="193.26" cy="796.51" r="2.75"/></g>
<g fill="#35801a"><circle cx="87.22" cy="816.01" r="2.75"/><circle cx="100.48" cy="795.86" r="2.75"/><circle cx="113.73" cy="794.2" r="2.75"/><circle cx="126.99" cy="790.41" r="2.75"/><circle cx="140.24" cy="783.89" r="2.75"/><circle cx="153.5" cy="771.33" r="2.75"/><circle cx="166.75" cy="782" r="2.75"/><circle cx="180" cy="789.23" r="2.75"/><circle cx="193.26" cy="801.79" r="2.75"/></g>
<g fill="#e1821e"><circle cx="87.22" cy="817.31" r="2.75"/><circle cx="100.48" cy="797.76" r="2.75"/><circle cx="113.73" cy="795.86" r="2.75"/><circle cx="126.99" cy="792.07" r="2.75"/><circle cx="140.24" cy="785.79" r="2.75"/><circle cx="153.5" cy="773.23" r="2.75"/><circle cx="166.75" cy="783.3" r="2.75"/><circle cx="180" cy="788.99" r="2.75"/><circle cx="193.26" cy="800.54" r="2.75"/></g>
<g fill="#cd0a0f"><circle cx="87.22" cy="814.82" r="2.75"/><circle cx="100.48" cy="793.37" r="2.75"/><circle cx="113.73" cy="790.17" r="2.75"/><circle cx="126.99" cy="785.55" r="2.75"/><circle cx="140.24" cy="778.86" r="2.75"/><circle cx="153.5" cy="764.75" r="2.75"/><circle cx="166.75" cy="773.82" r="2.75"/><circle cx="180" cy="779.51" r="2.75"/><circle cx="193.26" cy="792.78" r="2.75"/></g>
<g fill="#cd00be"><circle cx="87.22" cy="806.88" r="2.75"/><circle cx="100.48" cy="782.94" r="2.75"/><circle cx="113.73" cy="777.97" r="2.75"/><circle cx="126.99" cy="772.93" r="2.75"/><circle cx="140.24" cy="765.23" r="2.75"/><circle cx="153.5" cy="749.23" r="2.75"/><circle cx="166.75" cy="758.3" r="2.75"/><circle cx="180" cy="763.51" r="2.75"/><circle cx="193.26" cy="777.61" r="2.75"/></g>
<rect x="34.2" y="735.9" width="265.1" height="94.8" fill="none" stroke="#000" stroke-width="1.45"/>
<text x="34" y="843.45" font-size="9.9" text-anchor="middle">50</text>
<text x="100.28" y="843.45" font-size="9.9" text-anchor="middle">60</text>
<text x="166.55" y="843.45" font-size="9.9" text-anchor="middle">70</text>
<text x="232.83" y="843.45" font-size="9.9" text-anchor="middle">80</text>
<text x="299.1" y="843.45" font-size="9.9" text-anchor="middle">90</text>
<text x="166.9" y="854.15" font-size="9.8" text-anchor="middle">Planetocentric Latitude</text>
<text x="31.3" y="830.4" font-size="9.5" text-anchor="end">0</text>
<text x="31.3" y="810" font-size="9.5" text-anchor="end">2</text>
<text x="31.3" y="786.3" font-size="9.5" text-anchor="end">4</text>
<text x="31.3" y="762.6" font-size="9.5" text-anchor="end">6</text>
<text x="31.3" y="742" font-size="9.5" text-anchor="end">8</text>
<text transform="translate(18.3 783.6) rotate(-90)" font-size="9.3" text-anchor="middle"><tspan font-size="10.5">χ</tspan><tspan font-size="6.5" dy="-4.1">2</tspan><tspan dy="4.1" dx="0.7" font-size="10">/</tspan><tspan dx="0.5">N</tspan></text>
</g>
<text x="313.1" y="22.6" font-size="12.1" textLength="44.1" lengthAdjust="spacingAndGlyphs" style="fill:#5a00a8;stroke:#5a00a8">Model 1</text>
<text x="313.1" y="35.07" font-size="12.1" textLength="44.1" lengthAdjust="spacingAndGlyphs" style="fill:#2300ff;stroke:#2300ff">Model 2</text>
<text x="313.1" y="47.54" font-size="12.1" textLength="44.1" lengthAdjust="spacingAndGlyphs" style="fill:#5fa0ff;stroke:#5fa0ff">Model 3</text>
<text x="313.1" y="60.01" font-size="12.1" textLength="44.1" lengthAdjust="spacingAndGlyphs" style="fill:#8cfff0;stroke:#8cfff0">Model 4</text>
<text x="313.1" y="72.48" font-size="12.1" textLength="44.1" lengthAdjust="spacingAndGlyphs" style="fill:#78fa1e;stroke:#78fa1e">Model 5</text>
<text x="313.1" y="84.95" font-size="12.1" textLength="44.1" lengthAdjust="spacingAndGlyphs" style="fill:#35801a;stroke:#35801a">Model 6</text>
<text x="313.1" y="97.42" font-size="12.1" textLength="44.1" lengthAdjust="spacingAndGlyphs" style="fill:#e1821e;stroke:#e1821e">Model 7</text>
<text x="313.1" y="109.89" font-size="12.1" textLength="44.1" lengthAdjust="spacingAndGlyphs" style="fill:#cd0a0f;stroke:#cd0a0f">Model 8</text>
<text x="313.1" y="122.36" font-size="12.1" textLength="44.1" lengthAdjust="spacingAndGlyphs" style="fill:#cd00be;stroke:#cd00be">Model 9</text>
</g>
</svg></body></html>
